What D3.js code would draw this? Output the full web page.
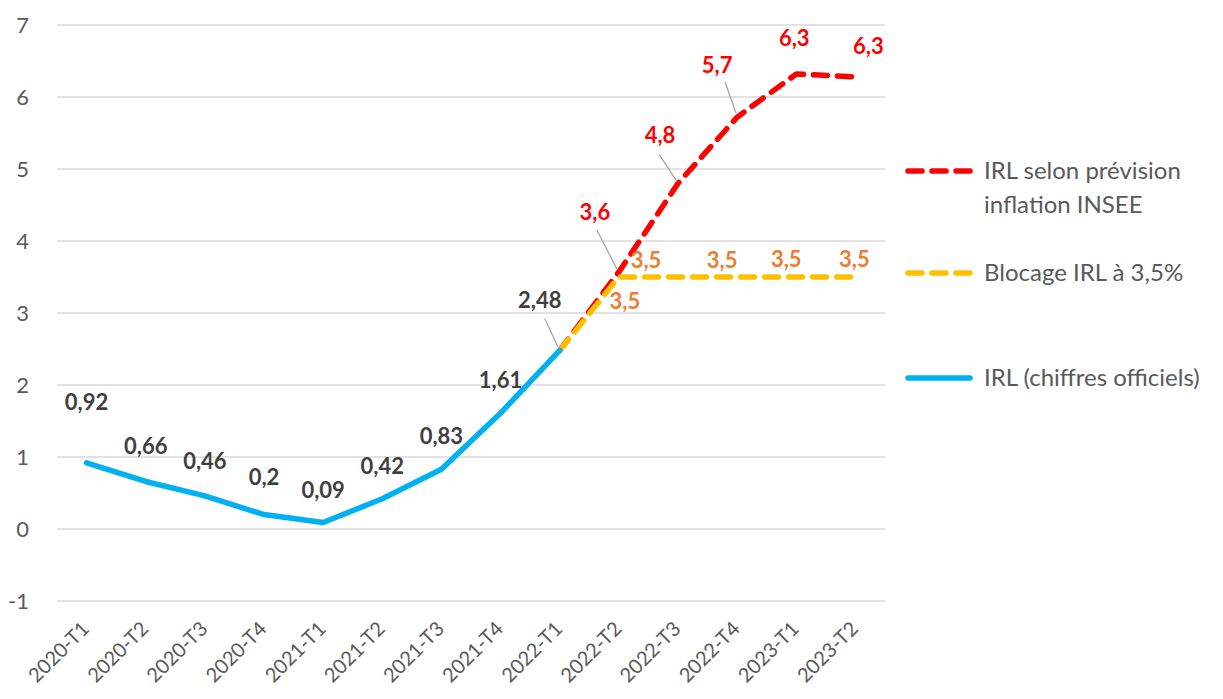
<!DOCTYPE html>
<html><head><meta charset="utf-8">
<script src="https://cdn.jsdelivr.net/npm/d3@7"></script>
<style>body{margin:0;background:#fff}svg{display:block;font-family:Lato,"Open Sans",sans-serif}</style>
</head><body><svg id="c" width="1223" height="699"></svg>
<script>
const categories = ["2020-T1","2020-T2","2020-T3","2020-T4","2021-T1","2021-T2","2021-T3","2021-T4","2022-T1","2022-T2","2022-T3","2022-T4","2023-T1","2023-T2"];
const irlOfficiel = [0.92,0.66,0.46,0.2,0.09,0.42,0.83,1.61,2.48,null,null,null,null,null];
const irlLabels = ["0,92","0,66","0,46","0,2","0,09","0,42","0,83","1,61","2,48"];
const irlPrevision = [null,null,null,null,null,null,null,null,2.48,3.57,4.8,5.72,6.32,6.28];
const prevLabels = [null,null,null,null,null,null,null,null,null,"3,6","4,8","5,7","6,3","6,3"];
const irlBlocage = [null,null,null,null,null,null,null,null,2.48,3.5,3.5,3.5,3.5,3.5];
const blocLabels = [null,null,null,null,null,null,null,null,null,"3,5","3,5","3,5","3,5","3,5"];
const yTicks = [-1,0,1,2,3,4,5,6,7];
const legendItems = ["IRL selon prévision|inflation INSEE","Blocage IRL à 3,5%","IRL (chiffres officiels)"];

const svg = d3.select("#c");
const x = d3.scaleBand().domain(categories).range([57,885]);
const cx = c => x(c) + x.bandwidth()/2;
const y = d3.scaleLinear().domain([-1,7]).range([601,25]);

// grid
svg.append("g").selectAll("line").data(yTicks).join("line")
  .attr("x1",57).attr("x2",885).attr("y1",d=>y(d)).attr("y2",d=>y(d))
  .attr("stroke","#d9d9d9").attr("stroke-width",1.3);
svg.append("g").selectAll("text").data(yTicks).join("text")
  .attr("x",29).attr("y",d=>y(d)).attr("dy","0.36em").attr("text-anchor","end")
  .attr("font-size",22).attr("fill","#595959").text(d=>d);
// x labels
svg.append("g").selectAll("text").data(categories).join("text")
  .attr("transform",d=>`translate(${cx(d)+4},${630}) rotate(-45)`)
  .attr("text-anchor","end").attr("font-size",20).attr("fill","#595959").text(d=>d);

const line = d3.line().defined(d=>d[1]!=null).x(d=>cx(d[0])).y(d=>y(d[1]));
const pts = arr => categories.map((c,i)=>[c,arr[i]]);

svg.append("path").datum(pts(irlPrevision)).attr("d",line).attr("fill","none")
  .attr("stroke","#ff0000").attr("stroke-width",5.5).attr("stroke-dasharray","14 10").attr("stroke-linecap","round").attr("stroke-linejoin","round");
svg.append("path").datum(pts(irlBlocage)).attr("d",line).attr("fill","none")
  .attr("stroke","#ffc000").attr("stroke-width",5.5).attr("stroke-dasharray","14 10").attr("stroke-linecap","round").attr("stroke-linejoin","round");
svg.append("path").datum(pts(irlOfficiel)).attr("d",line).attr("fill","none")
  .attr("stroke","#00b0f0").attr("stroke-width",5.5).attr("stroke-linecap","round").attr("stroke-linejoin","round");

// leader lines
const leaders = [
  [8, irlOfficiel, -15, -32, -2, -4],
  [9, irlPrevision, -22, -42, -2, -3],
  [10, irlPrevision, -19, -29, -1, -2],
  [11, irlPrevision, -12, -35, -1, -4]
];
svg.append("g").selectAll("line").data(leaders).join("line")
  .attr("x1",d=>cx(categories[d[0]])+d[2]).attr("y1",d=>y(d[1][d[0]])+d[3])
  .attr("x2",d=>cx(categories[d[0]])+d[4]).attr("y2",d=>y(d[1][d[0]])+d[5])
  .attr("stroke","#a6a6a6").attr("stroke-width",1.3);

// labels official
const offO = [[0,-60],[0,-35],[0,-35],[0,-37],[0,-32],[0,-32],[0,-33],[0,-33],[-20,-50]];
svg.append("g").selectAll("text").data(irlLabels).join("text")
  .attr("x",(d,i)=>cx(categories[i])+offO[i][0]).attr("y",(d,i)=>y(irlOfficiel[i])+offO[i][1])
  .attr("dy","0.35em").attr("text-anchor","middle").attr("font-size",22).attr("font-weight","bold")
  .attr("fill","#404040").text(d=>d);
const offP = {9:[-24,-60],10:[-18,-48],11:[-20,-52],12:[-2,-36],13:[13,-31]};
svg.append("g").selectAll("text").data(prevLabels.map((d,i)=>[d,i]).filter(d=>d[0])).join("text")
  .attr("x",d=>cx(categories[d[1]])+offP[d[1]][0]).attr("y",d=>y(irlPrevision[d[1]])+offP[d[1]][1])
  .attr("dy","0.35em").attr("text-anchor","middle").attr("font-size",22).attr("font-weight","bold")
  .attr("fill","#ff0000").text(d=>d[0]);
const offB = {9:[6,24],10:[-32,-17],11:[-15,-17],12:[-10,-18],13:[-1,-18]};
svg.append("g").selectAll("text").data(blocLabels.map((d,i)=>[d,i]).filter(d=>d[0])).join("text")
  .attr("x",d=>cx(categories[d[1]])+offB[d[1]][0]).attr("y",d=>y(irlBlocage[d[1]])+offB[d[1]][1])
  .attr("dy","0.35em").attr("text-anchor","middle").attr("font-size",22).attr("font-weight","bold")
  .attr("fill","#ed7d31").text(d=>d[0]);

// legend
const legY = [171,273,378];
const legColor = ["#ff0000","#ffc000","#00b0f0"];
const lg = svg.append("g").selectAll("g").data(legendItems).join("g")
  .attr("transform",(d,i)=>`translate(0,${legY[i]})`);
lg.append("line").attr("x1",908).attr("x2",970).attr("y1",0).attr("y2",0)
  .attr("stroke",(d,i)=>legColor[i]).attr("stroke-width",5.5).attr("stroke-linecap","round")
  .attr("stroke-dasharray",(d,i)=>i<2?"14 10":null);
lg.append("text").attr("x",984).attr("y",0).attr("font-size",24).attr("fill","#595959")
  .each(function(d){
    const parts=d.split("|");
    d3.select(this).selectAll("tspan").data(parts).join("tspan")
      .attr("x",984).attr("dy",(p,j)=>j===0?"0.35em":"1.4em").text(p=>p);
  });
</script></body></html>
